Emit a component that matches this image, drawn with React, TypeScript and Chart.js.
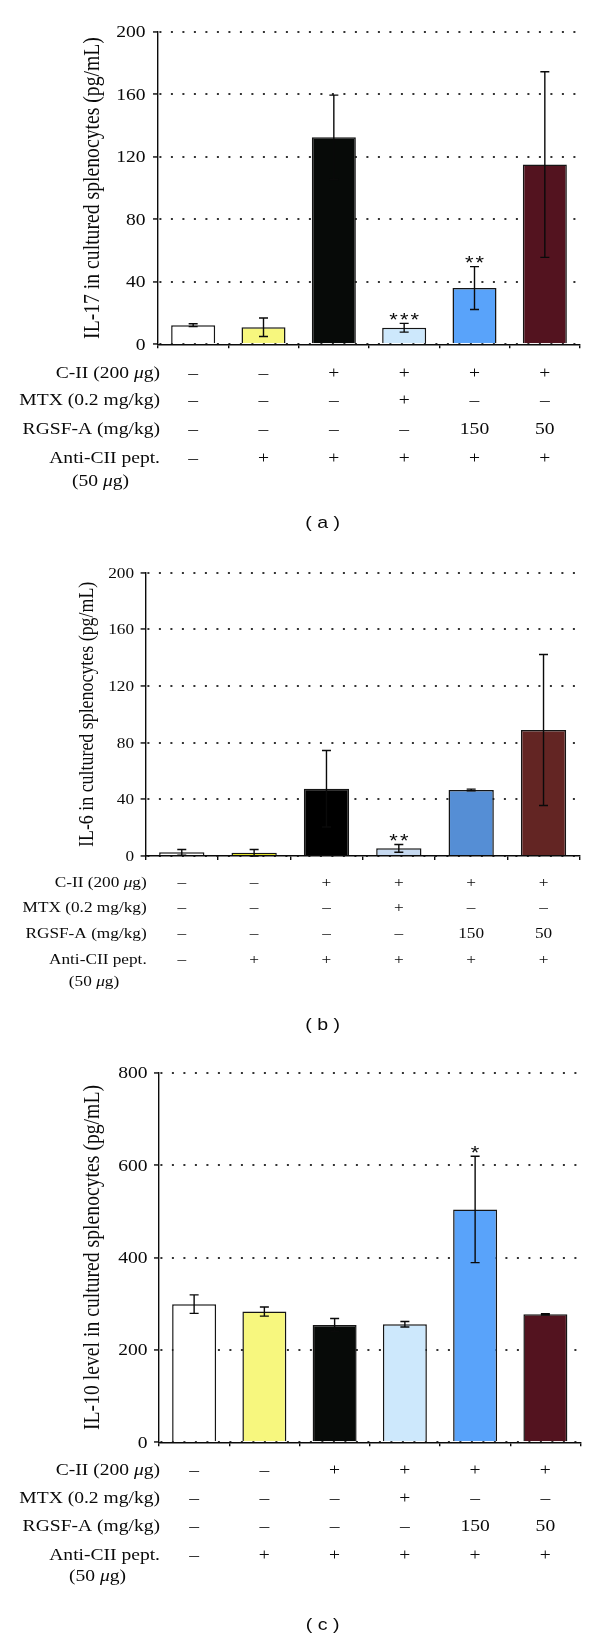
import React, { useEffect, useRef } from 'react';
import { Chart, registerables } from 'chart.js';

Chart.register(...registerables);

// ---------- data ----------
const groups = ['G1', 'G2', 'G3', 'G4', 'G5', 'G6'];

const rowLabels = ['C-II (200 μg)', 'MTX (0.2 mg/kg)', 'RGSF-A (mg/kg)', 'Anti-CII pept.'];
const rowLabelExtra = '(50 μg)';
const cIIRow = ['–', '–', '+', '+', '+', '+'];
const mtxRow = ['–', '–', '–', '+', '–', '–'];
const rgsfRow = ['–', '–', '–', '–', '150', '50'];
const antiRow = ['–', '+', '+', '+', '+', '+'];

// (a) IL-17
const il17Means = [12.2, 10.9, 132.4, 10.6, 36.0, 115.0];
const il17Errors = [0.9, 5.9, 27.0, 2.8, 13.7, 59.4];
const il17Sig = ['', '', '', '***', '**', ''];
const il17Ticks = [0, 40, 80, 120, 160, 200];

// (b) IL-6
const il6Means = [2.6, 2.3, 47.5, 5.4, 46.6, 89.0];
const il6Errors = [2.0, 2.3, 27.0, 2.7, 0.6, 53.3];
const il6Sig = ['', '', '', '**', '', ''];
const il6Ticks = [0, 40, 80, 120, 160, 200];

// (c) IL-10
const il10Means = [299, 283, 254, 255.6, 504, 277];
const il10Errors = [20, 10, 14, 6, 115, 1.5];
const il10Sig = ['', '', '', '', '*', ''];
const il10Ticks = [0, 200, 400, 600, 800];

// ---------- styles ----------
const colorsA = ['#ffffff', '#f7f77e', '#070a08', '#cde8fc', '#59a3fa', '#53131f'];
const colorsB = ['#ffffff', '#e4e42a', '#000000', '#c6d9f0', '#558ed5', '#632523'];
const colorsC = ['#ffffff', '#f7f77e', '#070a08', '#cde8fc', '#59a3fa', '#53131f'];

const SERIF = '"Liberation Serif", "Times New Roman", serif';
const SANS = '"Liberation Sans", Arial, sans-serif';
const SX = 1.15;
const INK = '#0a0a0a';

const panels = [
  {
    key: 'a', top: 0, height: 545,
    area: { left: 158, right: 580, top: 31.7, bottom: 344.3 },
    means: il17Means, errors: il17Errors, sig: il17Sig, ticks: il17Ticks, colors: colorsA,
    title: 'IL-17 in cultured splenocytes (pg/mL)', titleX: 93.5, titleSize: 19.7,
    fontSize: 17, labelRight: 160, extraCenter: 100.5, tickGap: 12.5,
    rows: [373.3, 400.7, 429.3, 458.3, 481.7], panelLabel: '( a )', panelLabelY: 523,
  },
  {
    key: 'b', top: 545, height: 500,
    area: { left: 145.6, right: 579.7, top: 27.7, bottom: 311 },
    means: il6Means, errors: il6Errors, sig: il6Sig, ticks: il6Ticks, colors: colorsB,
    title: 'IL-6 in cultured splenocytes (pg/mL)', titleX: 88, titleSize: 17.9,
    fontSize: 15, labelRight: 146.7, extraCenter: 94, tickGap: 11.5,
    rows: [337.7, 363.3, 388.7, 415, 436.7], panelLabel: '( b )', panelLabelY: 480,
  },
  {
    key: 'c', top: 1045, height: 595,
    area: { left: 159, right: 580.5, top: 27.7, bottom: 397.3 },
    means: il10Means, errors: il10Errors, sig: il10Sig, ticks: il10Ticks, colors: colorsC,
    title: 'IL-10 level in cultured splenocytes (pg/mL)', titleX: 93, titleSize: 19.7,
    fontSize: 17, labelRight: 160, extraCenter: 97.5, tickGap: 11.5,
    rows: [425.7, 453.3, 481.7, 510.7, 531.7], panelLabel: '( c )', panelLabelY: 580,
  },
];

// ---------- text helpers ----------
function segs(s: string) {
  const out: { t: string; it: boolean }[] = [];
  let cur = '';
  for (const ch of s) {
    if (ch === 'μ') {
      if (cur) out.push({ t: cur, it: false });
      out.push({ t: ch, it: true });
      cur = '';
    } else cur += ch;
  }
  if (cur) out.push({ t: cur, it: false });
  return out;
}

function richText(ctx: CanvasRenderingContext2D, s: string, x: number, y: number, size: number, align: 'left' | 'right' | 'center') {
  const parts = segs(s);
  const fontN = `${size}px ${SERIF}`;
  const fontI = `italic ${size}px ${SERIF}`;
  let w = 0;
  const widths = parts.map((p) => {
    ctx.font = p.it ? fontI : fontN;
    const m = ctx.measureText(p.t).width;
    w += m;
    return m;
  });
  ctx.save();
  ctx.translate(x, y);
  ctx.scale(SX, 1);
  let cx = align === 'left' ? 0 : align === 'right' ? -w : -w / 2;
  ctx.textAlign = 'left';
  ctx.textBaseline = 'middle';
  ctx.fillStyle = INK;
  parts.forEach((p, i) => {
    ctx.font = p.it ? fontI : fontN;
    ctx.fillText(p.t, cx, 0);
    cx += widths[i];
  });
  ctx.restore();
}

function plainText(ctx: CanvasRenderingContext2D, s: string, x: number, y: number, font: string, align: CanvasTextAlign, baseline: CanvasTextBaseline = 'middle') {
  ctx.save();
  ctx.translate(x, y);
  ctx.scale(SX, 1);
  ctx.font = font;
  ctx.textAlign = align;
  ctx.textBaseline = baseline;
  ctx.fillStyle = INK;
  ctx.fillText(s, 0, 0);
  ctx.restore();
}

function Panel({ spec }: { spec: any }) {
  const ref = useRef<HTMLCanvasElement>(null);
  useEffect(() => {
    const canvas = ref.current!;
    const XH = 10;
    const tickStep = spec.ticks[1] - spec.ticks[0];
    const tableRows = [cIIRow, mtxRow, rgsfRow, antiRow];

    const overlay = {
      id: 'overlay' + spec.key,
      afterDraw(chart: any) {
        const ctx: CanvasRenderingContext2D = chart.ctx;
        const y = chart.scales.y;
        const x = chart.scales.x;
        const meta = chart.getDatasetMeta(0);

        // error bars + significance marks
        ctx.save();
        ctx.strokeStyle = INK;
        ctx.lineWidth = 1.4;
        meta.data.forEach((bar: any, i: number) => {
          const cx = bar.x;
          const yt = y.getPixelForValue(spec.means[i] + spec.errors[i]);
          const yb = y.getPixelForValue(spec.means[i] - spec.errors[i]);
          ctx.beginPath();
          ctx.moveTo(cx, yt);
          ctx.lineTo(cx, yb);
          ctx.moveTo(cx - 4.5, yt);
          ctx.lineTo(cx + 4.5, yt);
          ctx.moveTo(cx - 4.5, yb);
          ctx.lineTo(cx + 4.5, yb);
          ctx.stroke();
          const sig: string = spec.sig[i];
          if (sig) {
            const fs = 19;
            const n = sig.length;
            const gap = 10.7;
            for (let k = 0; k < n; k++) {
              const sx = cx + (k - (n - 1) / 2) * gap;
              plainText(ctx, '*', sx, yt - 8.5 + 0.58 * fs, `${fs}px ${SANS}`, 'center', 'alphabetic');
            }
          }
        });
        ctx.restore();

        // y tick labels
        y.ticks.forEach((t: any) => {
          const py = y.getPixelForValue(t.value);
          plainText(ctx, String(t.value), chart.chartArea.left - spec.tickGap, py + 1, `${spec.fontSize}px ${SERIF}`, 'right');
        });

        // y title
        ctx.save();
        ctx.translate(spec.titleX, (chart.chartArea.top + chart.chartArea.bottom) / 2);
        ctx.scale(SX, 1);
        ctx.rotate(-Math.PI / 2);
        ctx.font = `${spec.titleSize}px ${SERIF}`;
        ctx.textAlign = 'center';
        ctx.textBaseline = 'middle';
        ctx.fillStyle = INK;
        ctx.fillText(spec.title, 0, 0);
        ctx.restore();

        // treatment table
        rowLabels.forEach((lab, r) => {
          richText(ctx, lab, spec.labelRight, spec.rows[r], spec.fontSize, 'right');
          tableRows[r].forEach((v, i) => {
            const cx = x.getPixelForValue(i);
            richText(ctx, v, cx, spec.rows[r], spec.fontSize, 'center');
          });
        });
        richText(ctx, rowLabelExtra, spec.extraCenter, spec.rows[4], spec.fontSize, 'center');

        // panel label
        plainText(ctx, spec.panelLabel, 322.6, spec.panelLabelY, `17px ${SANS}`, 'center');
      },
    };

    const chart = new Chart(canvas, {
      type: 'bar',
      data: {
        labels: groups,
        datasets: [
          {
            data: spec.means,
            backgroundColor: spec.colors,
            borderColor: '#151515',
            borderWidth: 1.5,
            barPercentage: 0.626,
            categoryPercentage: 1,
          },
        ],
      },
      options: {
        animation: false,
        responsive: false,
        devicePixelRatio: 1,
        events: [],
        layout: {
          padding: {
            left: 0,
            top: spec.area.top,
            right: 600 - spec.area.right,
            bottom: spec.height - spec.area.bottom - XH,
          },
        },
        plugins: { legend: { display: false }, tooltip: { enabled: false }, title: { display: false } },
        scales: {
          x: {
            type: 'category',
            offset: true,
            ticks: { display: false },
            grid: {
              display: true,
              offset: true,
              drawOnChartArea: false,
              drawTicks: true,
              tickLength: 4,
              tickColor: INK,
              tickWidth: 1.4,
              color: INK,
              lineWidth: 1.4,
            },
            border: { display: true, color: INK, width: 1.4 },
            afterFit: (s: any) => { s.height = XH; },
          },
          y: {
            min: spec.ticks[0],
            max: spec.ticks[spec.ticks.length - 1],
            ticks: { display: false, stepSize: tickStep },
            grid: {
              display: true,
              drawOnChartArea: true,
              drawTicks: true,
              tickLength: 5,
              tickColor: INK,
              tickWidth: 1.4,
              color: '#333333',
              lineWidth: 1.9,
            },
            border: { display: true, color: INK, width: 1.4, dash: [2, 9.5], dashOffset: -1 },
            afterFit: (s: any) => { s.width = spec.area.left; },
          },
        },
      },
      plugins: [overlay],
    } as any);
    return () => chart.destroy();
  }, [spec]);
  return (
    <canvas
      ref={ref}
      width={600}
      height={spec.height}
      style={{ position: 'absolute', left: 0, top: spec.top, width: 600, height: spec.height, display: 'block' }}
    />
  );
}

export default function App() {
  return (
    <div style={{ position: 'absolute', left: 0, top: 0, width: 600, height: 1640, background: '#ffffff' }}>
      {panels.map((p) => (
        <Panel key={p.key} spec={p} />
      ))}
    </div>
  );
}
